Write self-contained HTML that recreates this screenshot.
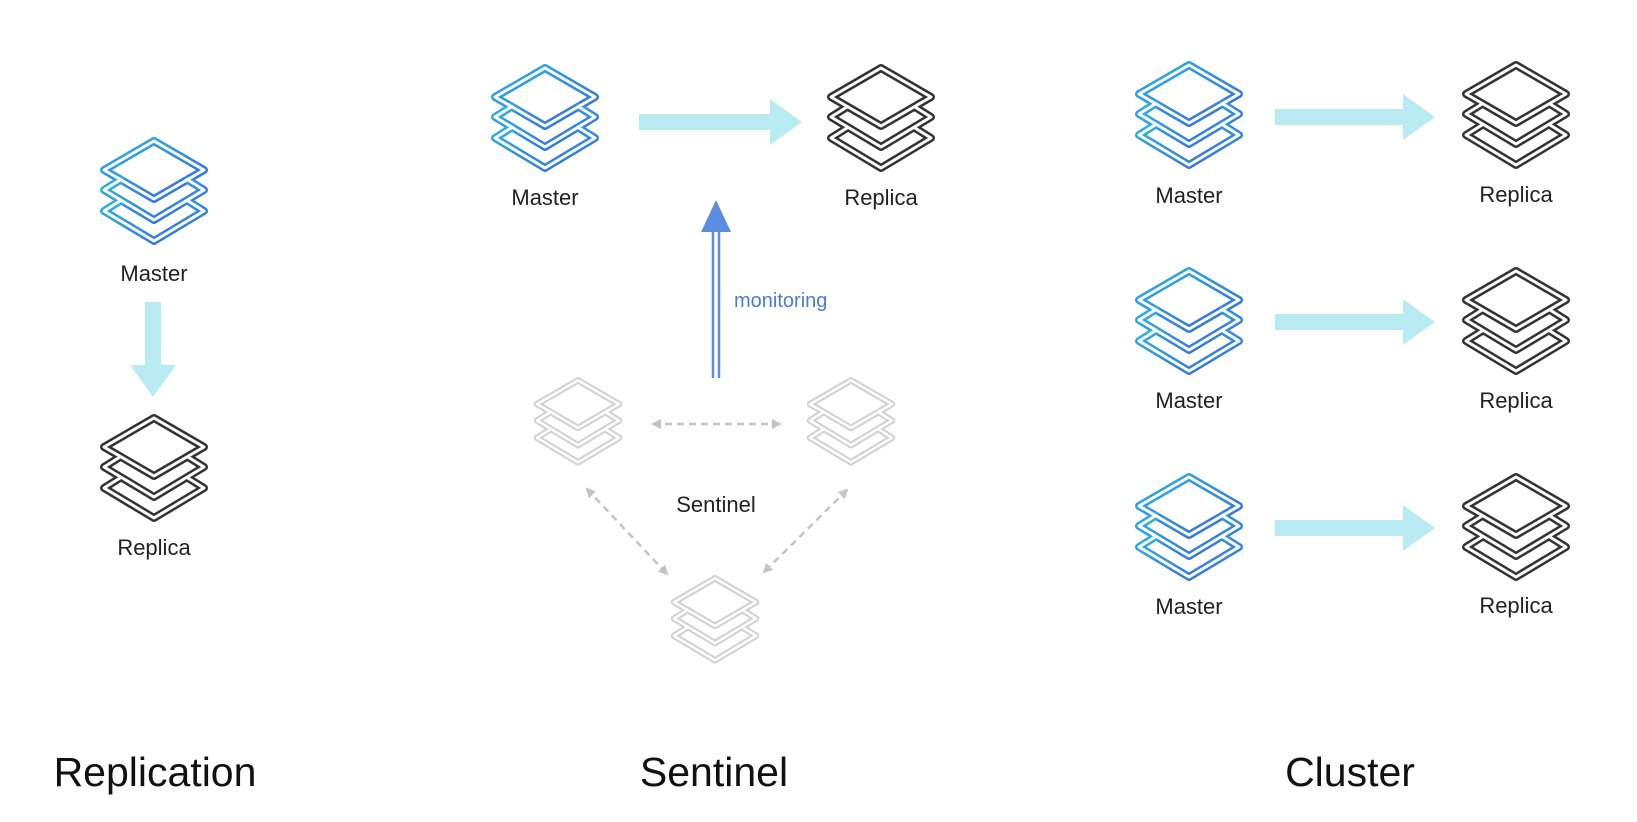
<!DOCTYPE html>
<html><head><meta charset="utf-8"><style>
html,body{margin:0;padding:0;background:#fff;}
svg{display:block;}
text{font-family:"Liberation Sans","DejaVu Sans",sans-serif;}
</style></head><body>
<svg width="1637" height="822" viewBox="0 0 1637 822" xmlns="http://www.w3.org/2000/svg">
<defs>
<linearGradient id="bg" x1="0" y1="0" x2="1" y2="1">
<stop offset="0" stop-color="#2bb3e3"/><stop offset="1" stop-color="#3a6ad6"/>
</linearGradient>
<g id="shape">
<polygon points="0,-52 50,-23 0,6 -50,-23"/>
<polyline points="-34,-13 -50,-3 0,27 50,-3 34,-13"/>
<polyline points="-34,8 -50,18 0,48 50,18 34,8"/>
</g>
<g id="ib"><use href="#shape" stroke="url(#bg)" stroke-width="8" fill="none" stroke-linejoin="round" stroke-linecap="round"/><use href="#shape" stroke="#fff" stroke-width="3" fill="none" stroke-linejoin="round" stroke-linecap="round"/></g>
<g id="ik"><use href="#shape" stroke="#333" stroke-width="8" fill="none" stroke-linejoin="round" stroke-linecap="round"/><use href="#shape" stroke="#fff" stroke-width="3" fill="none" stroke-linejoin="round" stroke-linecap="round"/></g>
<g id="ig"><use href="#shape" stroke="#d2d2d2" stroke-width="8" fill="none" stroke-linejoin="round" stroke-linecap="round"/><use href="#shape" stroke="#fff" stroke-width="3" fill="none" stroke-linejoin="round" stroke-linecap="round"/></g>
<g id="ra"><rect x="0" y="-8" width="130" height="16" fill="#b8ecf2"/><polygon points="128,-23 160,0 128,23" fill="#b8ecf2"/></g>
<marker id="gm" viewBox="0 0 10 10" refX="8" refY="5" markerWidth="4" markerHeight="4" orient="auto-start-reverse"><path d="M0,0 L10,5 L0,10 z" fill="#c4c4c4"/></marker>
</defs>
<g font-size="22" fill="#222" text-anchor="middle">
<!-- Replication -->
<use href="#ib" transform="translate(154,193)"/>
<text x="154" y="281">Master</text>
<g transform="translate(153,302) rotate(90)"><rect x="0" y="-8" width="65" height="16" fill="#b8ecf2"/><polygon points="63,-23 95,0 63,23" fill="#b8ecf2"/></g>
<use href="#ik" transform="translate(154,470)"/>
<text x="154" y="555">Replica</text>
<text x="155" y="786" font-size="41" fill="#111">Replication</text>
<!-- Sentinel -->
<use href="#ib" transform="translate(545,120)"/>
<text x="545" y="205">Master</text>
<use href="#ik" transform="translate(881,120)"/>
<text x="881" y="205">Replica</text>
<g transform="translate(639,122)"><rect x="0" y="-8" width="133" height="16" fill="#b8ecf2"/><polygon points="131,-23 163,0 131,23" fill="#b8ecf2"/></g>
<line x1="713" y1="378" x2="713" y2="228" stroke="#5b8de0" stroke-width="2.5"/>
<line x1="719" y1="378" x2="719" y2="228" stroke="#5b8de0" stroke-width="2.5"/>
<polygon points="716,200 701,232 731,232" fill="#5b8de0"/>
<text x="734" y="307" font-size="20" fill="#4a7bd8" text-anchor="start">monitoring</text>
<use href="#ig" transform="translate(578,423) scale(0.82)"/>
<use href="#ig" transform="translate(851,423) scale(0.82)"/>
<use href="#ig" transform="translate(715,621) scale(0.82)"/>
<g stroke="#c4c4c4" stroke-width="2.5" stroke-dasharray="7,5" fill="none">
<line x1="653" y1="424" x2="780" y2="424" marker-start="url(#gm)" marker-end="url(#gm)"/>
<line x1="587" y1="489" x2="667" y2="574" marker-start="url(#gm)" marker-end="url(#gm)"/>
<line x1="847" y1="490" x2="764" y2="572" marker-start="url(#gm)" marker-end="url(#gm)"/>
</g>
<text x="716" y="512">Sentinel</text>
<text x="714" y="786" font-size="41" fill="#111">Sentinel</text>
<!-- Cluster -->
<use href="#ib" transform="translate(1189,117)"/>
<text x="1189" y="203">Master</text>
<use href="#ik" transform="translate(1516,117)"/>
<text x="1516" y="202">Replica</text>
<use href="#ra" transform="translate(1275,117)"/>
<use href="#ib" transform="translate(1189,323)"/>
<text x="1189" y="408">Master</text>
<use href="#ik" transform="translate(1516,323)"/>
<text x="1516" y="408">Replica</text>
<use href="#ra" transform="translate(1275,322)"/>
<use href="#ib" transform="translate(1189,529)"/>
<text x="1189" y="614">Master</text>
<use href="#ik" transform="translate(1516,529)"/>
<text x="1516" y="613">Replica</text>
<use href="#ra" transform="translate(1275,528)"/>
<text x="1350" y="786" font-size="41" fill="#111">Cluster</text>
</g>
</svg>
</body></html>
